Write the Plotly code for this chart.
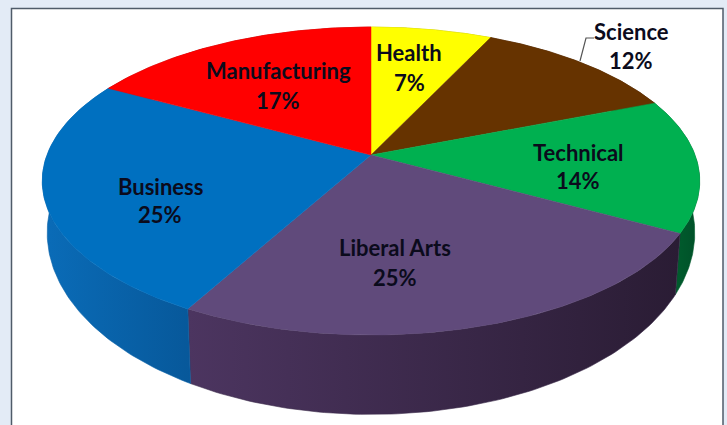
import numpy as np
import plotly.graph_objects as go

# Data, clockwise from twelve o'clock
categories = ["Health", "Science", "Technical", "Liberal Arts", "Business", "Manufacturing"]
shares = [7, 12, 14, 25, 25, 17]

# Styles
top_colors = ["#ffff00", "#663300", "#00b050", "#604a7b", "#0070c0", "#ff0000"]
side_left = ["#aaaa00", "#442200", "#006a33", "#4c3560", "#0a6cb8", "#aa0000"]
side_right = ["#aaaa00", "#442200", "#004f28", "#2a1c34", "#07589a", "#aa0000"]
side_edge = ["#aaaa00", "#442200", "#005a2c", "#3a2a4a", "#0862a8", "#aa0000"]
label_x = [409, 631, 578, 395, 160, 278]
name_y = [52, 31, 152, 247, 186, 70]
pct_y = [82, 60, 180, 277, 214, 100]

# Projection of the disc, in page pixels
CX, CY, RX, RY, K = 371, 155, 324, 149.6, 0.169
LOW_CY, LOW_XF, LOW_YF = 202, 0.985, 1.18


def project(theta, cy=CY, xf=1.0, yf=1.0):
    c, s = np.sin(theta), -np.cos(theta)
    w = 1 / (1 - K * s)
    return CX + xf * RX * c * w, cy + yf * RY * s * w


fig = go.Figure()
edges = 2 * np.pi * np.cumsum([0] + shares) / sum(shares)

for i, cat in enumerate(categories):
    th = np.linspace(edges[i], edges[i + 1], 100)
    ux, uy = project(th)
    lx, ly = project(th, LOW_CY, LOW_XF, LOW_YF)
    fig.add_trace(go.Scatter(
        x=np.r_[ux, lx[::-1], ux[0]], y=np.r_[uy, ly[::-1], uy[0]], mode="lines", fill="toself",
        line=dict(width=0.6, color=side_edge[i]), hoverinfo="skip", showlegend=False,
        fillgradient=dict(type="horizontal",
                          colorscale=[[0, side_left[i]], [1, side_right[i]]]),
    ))

for i, cat in enumerate(categories):
    th = np.linspace(edges[i], edges[i + 1], 100)
    ux, uy = project(th)
    fig.add_trace(go.Scatter(
        x=np.r_[CX, ux, CX], y=np.r_[CY, uy, CY], mode="lines", fill="toself",
        fillcolor=top_colors[i], line=dict(width=0.5, color=top_colors[i]),
        name=cat, hoverinfo="name", showlegend=False,
    ))

# Leader line for the Science label
fig.add_trace(go.Scatter(x=[580, 586, 594], y=[61, 38, 38], mode="lines",
                         line=dict(color="#555555", width=1.2),
                         hoverinfo="skip", showlegend=False))

font = dict(family="Lato", size=22, color="#0b0b1c")
for i, cat in enumerate(categories):
    fig.add_annotation(x=label_x[i], y=name_y[i], text=f"<b>{cat}</b>", showarrow=False, font=font)
    fig.add_annotation(x=label_x[i], y=pct_y[i], text=f"<b>{shares[i]}%</b>", showarrow=False, font=font)

fig.update_layout(
    width=727, height=425, margin=dict(l=0, r=0, t=0, b=0),
    paper_bgcolor="#e3ebf6", plot_bgcolor="#e3ebf6",
    xaxis=dict(range=[0, 727], visible=False, fixedrange=True),
    yaxis=dict(range=[425, 0], visible=False, fixedrange=True),
    shapes=[dict(type="rect", xref="x", yref="y", x0=11.5, x1=723, y0=8.5, y1=440,
                 line=dict(color="#4f5b69", width=1.5), fillcolor="#ffffff", layer="below")],
)
fig.write_html("out.html", config=dict(displayModeBar=False),
               post_script="document.body.style.margin='0';")
